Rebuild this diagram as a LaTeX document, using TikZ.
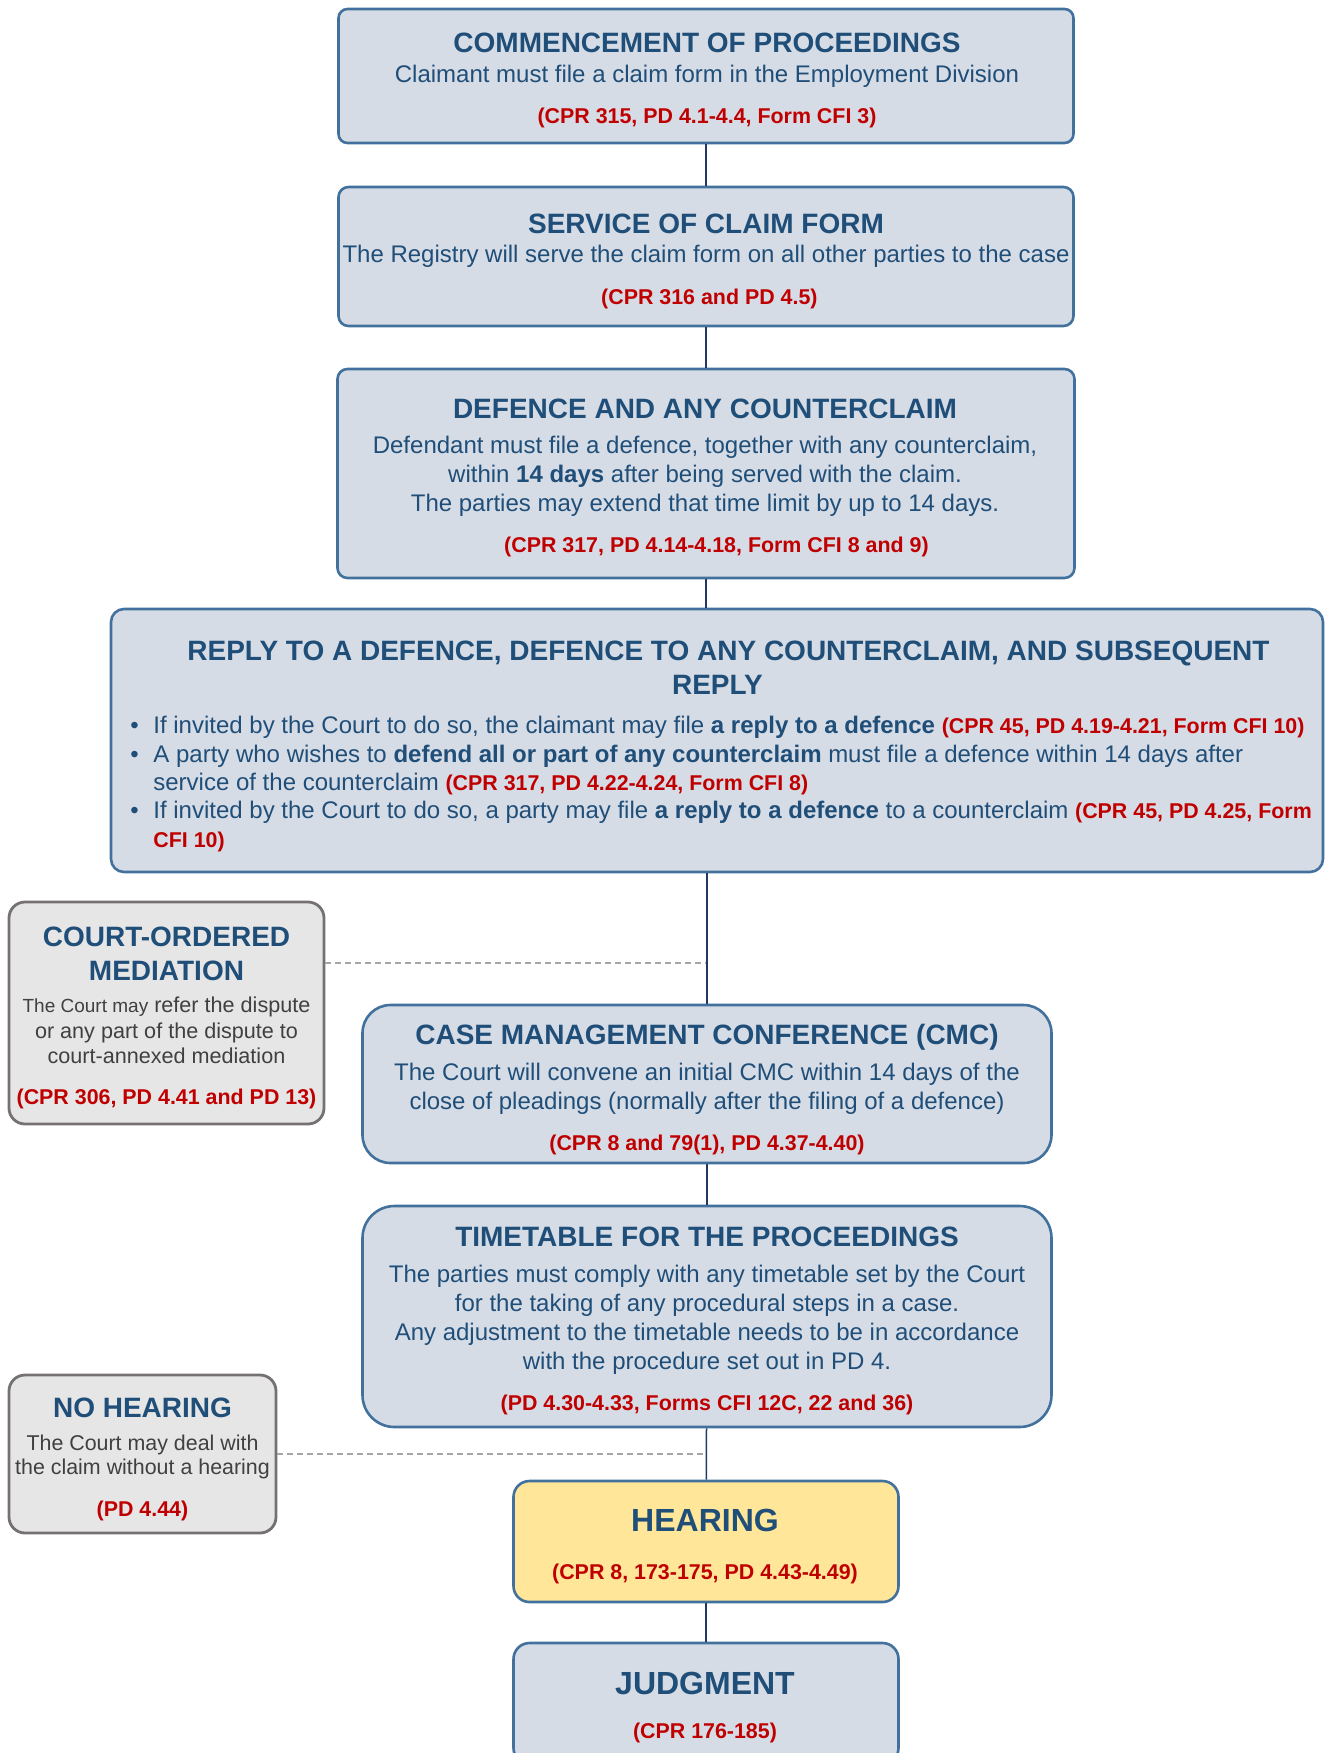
\documentclass[tikz,border=0pt]{standalone}
\usepackage{fontspec}
\setmainfont{Liberation Sans}

\definecolor{stagefill}{HTML}{D6DCE5}
\definecolor{stageedge}{HTML}{41719C}
\definecolor{hearfill}{HTML}{FFE699}
\definecolor{asidefill}{HTML}{E7E6E6}
\definecolor{asideedge}{HTML}{767171}
\definecolor{asidetext}{HTML}{404040}
\definecolor{titleblue}{HTML}{1F4E79}
\definecolor{bodyblue}{HTML}{1F4E79}
\definecolor{rulered}{HTML}{C00000}
\definecolor{linknavy}{HTML}{1F3864}
\definecolor{dashgray}{HTML}{A6A6A6}

\newcommand\stagehead[1]{{\fontsize{14}{14}\selectfont\bfseries\color{titleblue}#1}}
\newcommand\bighead[1]{{\fontsize{16}{14}\selectfont\bfseries\color{titleblue}#1}}
\newcommand\cprref[1]{{\fontsize{10.7}{14}\selectfont\bfseries\color{rulered}#1}}
\newcommand\bulletpt{\makebox[11.5pt][l]{\textbullet}}
\newcommand\bulletgap{\hspace*{11.5pt}}

\tikzset{
  stage/.style={draw=stageedge, fill=stagefill, line width=1.3pt, rounded corners=5pt, inner sep=0pt},
  aside/.style={draw=asideedge, fill=asidefill, line width=1.4pt, rounded corners=8pt, inner sep=0pt},
  words/.style={anchor=north, align=center, inner sep=0pt, text=bodyblue, font=\fontsize{12}{14}\selectfont},
  link/.style={draw=linknavy, line width=0.75pt},
  optional/.style={draw=dashgray, line width=0.75pt, dash pattern=on 3pt off 2pt},
}

\begin{document}
\begin{tikzpicture}[x=0.5pt, y=-0.5pt]
\useasboundingbox (0,0) rectangle (1331,1753);

% main stages
\node[stage, minimum width=367.5pt, minimum height=67pt, rounded corners=4.5pt] (commence) at (706,76) {};
\node[stage, minimum width=367.5pt, minimum height=69.5pt] (service) at (706,256.5) {};
\node[stage, minimum width=368.5pt, minimum height=104.5pt] (defence) at (706,473.5) {};
\node[stage, minimum width=606pt, minimum height=131.5pt, rounded corners=6.5pt] (reply) at (717,740.5) {};
\node[stage, minimum width=344.5pt, minimum height=79pt, rounded corners=14pt] (cmc) at (707,1084) {};
\node[stage, minimum width=344.5pt, minimum height=110.5pt, rounded corners=16pt] (timetable) at (707,1316.5) {};
\node[stage, fill=hearfill, minimum width=192.5pt, minimum height=60.5pt, rounded corners=8pt] (hearing) at (706,1541.5) {};
\node[stage, minimum width=192.5pt, minimum height=60.5pt, rounded corners=8pt] (judgment) at (706,1703.5) {};

% side boxes
\node[aside, minimum width=157.5pt, minimum height=111pt] (mediation) at (166.5,1013) {};
\node[aside, minimum width=133.5pt, minimum height=79pt] (nohearing) at (142.5,1454) {};

% connectors
\draw[link] (commence) -- (service);
\draw[link] (service) -- (defence);
\draw[link] (defence.south) -- (defence.south |- reply.north);
\draw[link] (reply.south -| cmc.north) -- (cmc.north);
\draw[link] (cmc) -- (timetable);
\draw[link] (timetable) -- (hearing);
\draw[link] (hearing) -- (judgment);
\coordinate (mediationjoin) at (706,963);
\draw[optional] (mediationjoin -| mediation.east) -- (mediationjoin);
\draw[optional] (nohearing.east) -- (nohearing.east -| hearing.north);

% texts
\node[words] (commencetext) at (707,32.5) {\stagehead{COMMENCEMENT OF PROCEEDINGS}\\[1.25pt]
  Claimant must file a claim form in the Employment Division\\[6.5pt]
  \cprref{(CPR 315, PD 4.1-4.4, Form CFI 3)}};
\node[words] (servicetext) at (706,213.5) {\stagehead{SERVICE OF CLAIM FORM}\\[0.75pt]
  The Registry will serve the claim form on all other parties to the case\\[7pt]
  \hspace*{3.4pt}\cprref{(CPR 316 and PD 4.5)}};
\node[words] (defencetext) at (705,398.5) {\stagehead{DEFENCE AND ANY COUNTERCLAIM}\\[3.75pt]
  Defendant must file a defence, together with any counterclaim,\\[0.5pt]
  within \textbf{14 days} after being served with the claim.\\[0.5pt]
  The parties may extend that time limit by up to 14 days.\\[6.5pt]
  \hspace*{11.5pt}\cprref{(CPR 317, PD 4.14-4.18, Form CFI 8 and 9)}};
\node[words] (replytitle) at (717.5,641) {\hspace*{11pt}\stagehead{REPLY TO A DEFENCE, DEFENCE TO ANY COUNTERCLAIM, AND SUBSEQUENT}\\[3pt]
  \stagehead{REPLY}};
\node[words, anchor=north west, align=left, font=\fontsize{12}{14.15}\selectfont] (replytext) at (130,716) {%
  \bulletpt If invited by the Court to do so, the claimant may file \textbf{a reply to a defence} \cprref{(CPR 45, PD 4.19-4.21, Form CFI 10)}\\
  \bulletpt A party who wishes to \textbf{defend all or part of any counterclaim} must file a defence within 14 days after\\
  \bulletgap service of the counterclaim \cprref{(CPR 317, PD 4.22-4.24, Form CFI 8)}\\
  \bulletpt If invited by the Court to do so, a party may file \textbf{a reply to a defence} to a counterclaim \cprref{(CPR 45, PD 4.25, Form}\\
  \bulletgap \cprref{CFI 10)}};
\node[words, text=asidetext, font=\fontsize{10.8}{14}\selectfont] (mediationtext) at (166.5,927) {\stagehead{COURT-ORDERED}\\[3pt]
  \stagehead{MEDIATION}\\[2pt]
  {\fontsize{9.5}{14}\selectfont The Court may} refer the dispute\\[-1.25pt]
  or any part of the dispute to\\[-1.25pt]
  court-annexed mediation\\[6.5pt]
  \cprref{(CPR 306, PD 4.41 and PD 13)}};
\node[words] (cmctext) at (707,1024) {\stagehead{CASE MANAGEMENT CONFERENCE (CMC)}\\[3.75pt]
  The Court will convene an initial CMC within 14 days of the\\[0.5pt]
  close of pleadings (normally after the filing of a defence)\\[6.5pt]
  \cprref{(CPR 8 and 79(1), PD 4.37-4.40)}};
\node[words] (timetabletext) at (707,1226.5) {\stagehead{TIMETABLE FOR THE PROCEEDINGS}\\[4.25pt]
  The parties must comply with any timetable set by the Court\\[0.35pt]
  for the taking of any procedural steps in a case.\\[0.35pt]
  Any adjustment to the timetable needs to be in accordance\\[0.35pt]
  with the procedure set out in PD 4.\\[6.5pt]
  \cprref{(PD 4.30-4.33, Forms CFI 12C, 22 and 36)}};
\node[words, text=asidetext, font=\fontsize{10.7}{14}\selectfont] (nohearingtext) at (142.5,1397.5) {\stagehead{NO HEARING}\\[2.5pt]
  The Court may deal with\\[-2pt]
  the claim without a hearing\\[7.25pt]
  \cprref{(PD 4.44)}};
\node[words] (hearingtext) at (705,1509) {\bighead{HEARING}\\[10pt]
  \cprref{(CPR 8, 173-175, PD 4.43-4.49)}};
\node[words] (judgmenttext) at (705,1672) {\bighead{JUDGMENT}\\[8pt]
  \cprref{(CPR 176-185)}};
\end{tikzpicture}
\end{document}
